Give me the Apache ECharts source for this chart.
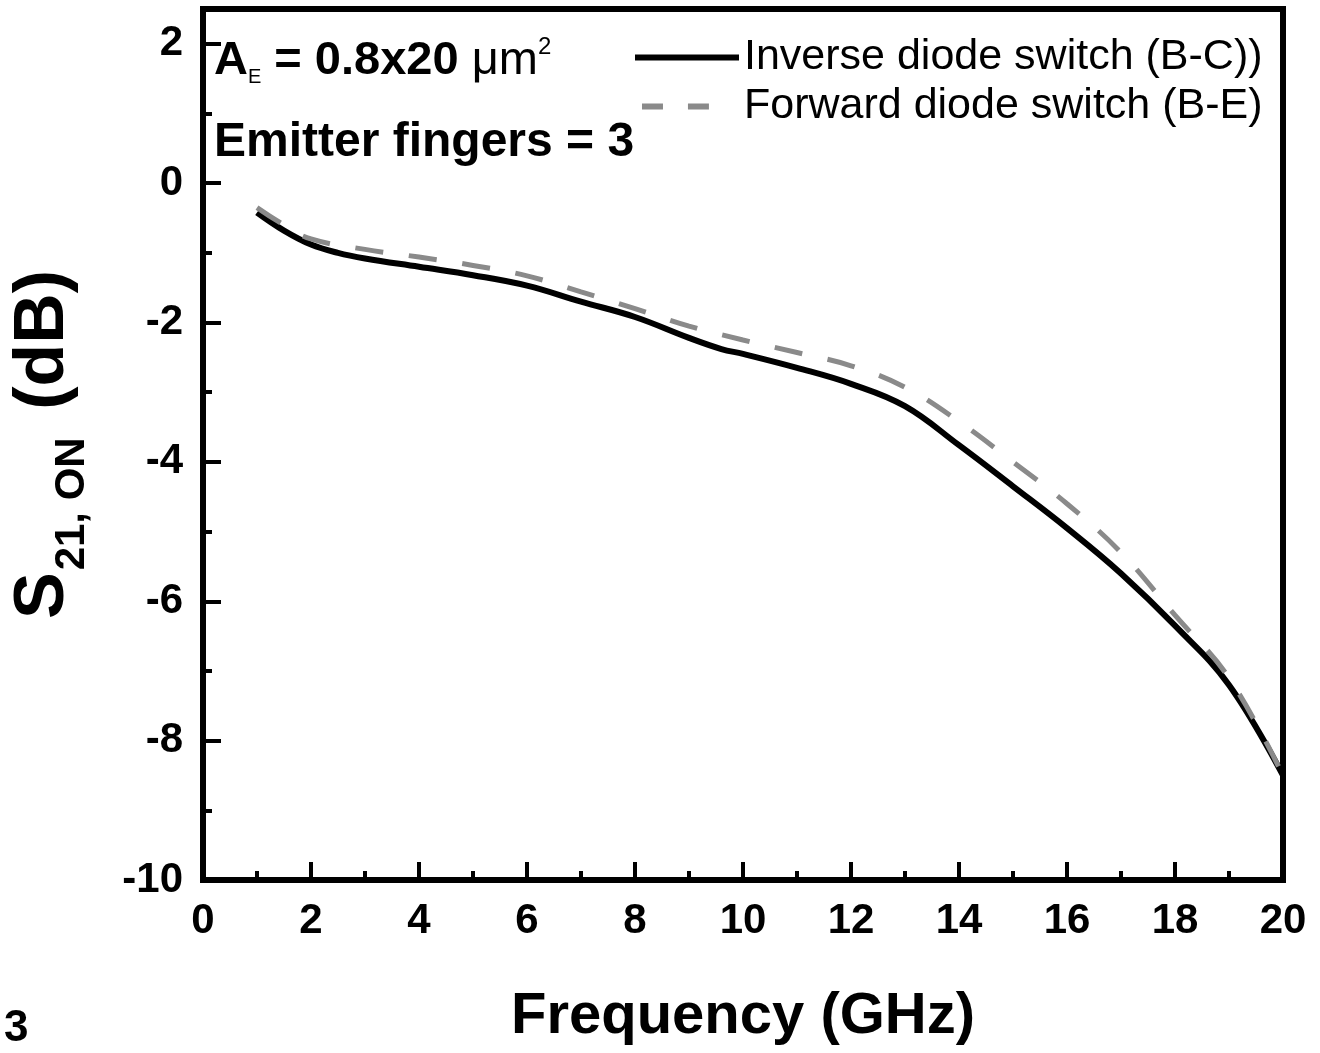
<!DOCTYPE html>
<html>
<head>
<meta charset="utf-8">
<title>S21 ON vs frequency</title>
<script src="https://cdn.jsdelivr.net/npm/echarts@6/dist/echarts.min.js"></script>
<style>
  html, body { margin: 0; padding: 0; background: #fff; }
  #chart { width: 1320px; height: 1053px; }
</style>
</head>
<body>
<div id="chart"></div>
<script>
// values (GHz, dB)
const freqInverse = [1, 1.5, 2, 2.5, 3, 4, 5, 6, 7, 8, 9, 9.6, 10, 11, 12, 13, 14, 15, 16, 17, 18, 19, 20];
const s21Inverse = [-0.42, -0.68, -0.88, -1.0, -1.08, -1.2, -1.32, -1.47, -1.7, -1.92, -2.22, -2.38, -2.45, -2.65, -2.88, -3.2, -3.76, -4.35, -4.95, -5.6, -6.35, -7.2, -8.5];
const freqForward = [1, 1.5, 2, 3, 4, 5, 6, 7, 8, 9, 10, 11, 12, 13, 14, 15, 16, 17, 18, 19, 20];
const s21Forward = [-0.35, -0.6, -0.8, -0.95, -1.06, -1.18, -1.33, -1.56, -1.8, -2.05, -2.25, -2.43, -2.62, -2.93, -3.42, -4.0, -4.6, -5.3, -6.2, -7.1, -8.5];
const seriesNames = ["Inverse diode switch (B-C))", "Forward diode switch (B-E)"];
const xRange = [0, 20];
const yRange = [-10, 2.5];

const FONT = "'Liberation Sans', Arial, sans-serif";

// legend samples: a plain bar and two short dashes (tiny anchors keep the width)
const solidIcon = "path://M0,0h104v6h-104z";
const dashIcon = "path://M0,0h0.1v0.1h-0.1zM7,0h21v6h-21zM53,0h21v6h-21zM104,0h0.1v0.1h-0.1z";

function pairs(xs, ys) {
  return xs.map((x, i) => [x, ys[i]]);
}

const chart = echarts.init(document.getElementById("chart"));
chart.setOption({
  animation: false,
  backgroundColor: "#fff",
  textStyle: { fontFamily: FONT, color: "#000" },
  grid: {
    left: 203,
    right: 37,
    top: 9,
    bottom: 173,
    outerBoundsMode: "none",
    containLabel: false,
    show: true,
    borderColor: "#000",
    borderWidth: 6
  },
  legend: {
    orient: "vertical",
    left: 630,
    top: 31,
    itemWidth: 104,
    itemHeight: 6,
    itemGap: 6,
    symbolKeepAspect: false,
    textStyle: { fontSize: 43, color: "#000", fontFamily: FONT },
    data: [
      { name: seriesNames[0], icon: solidIcon },
      { name: seriesNames[1], icon: dashIcon }
    ]
  },
  xAxis: {
    type: "value",
    min: xRange[0],
    max: xRange[1],
    interval: 2,
    name: "Frequency (GHz)",
    nameLocation: "middle",
    nameGap: 108,
    nameTextStyle: { fontSize: 58, fontWeight: "bold", color: "#000", fontFamily: FONT },
    axisLine: { onZero: false, lineStyle: { color: "#000", width: 6 } },
    axisTick: { inside: true, length: 18, lineStyle: { color: "#000", width: 4 } },
    minorTick: { show: true, splitNumber: 2, length: 9, lineStyle: { color: "#000", width: 4 } },
    axisLabel: { fontSize: 42, fontWeight: "bold", color: "#000", margin: 20, fontFamily: FONT },
    splitLine: { show: false }
  },
  yAxis: {
    type: "value",
    min: yRange[0],
    max: yRange[1],
    interval: 2,
    name: "{s|S}{sub|21, ON}{s| (dB)}",
    nameLocation: "middle",
    nameGap: 110,
    nameTextStyle: {
      fontFamily: FONT,
      rich: {
        s: { fontSize: 70, fontWeight: "bold", color: "#000", fontFamily: FONT, lineHeight: 72, verticalAlign: "bottom", padding: [0, 0, 14, 0] },
        sub: { fontSize: 42, fontWeight: "bold", color: "#000", fontFamily: FONT, verticalAlign: "bottom", lineHeight: 40, padding: [0, 8, 0, 2] }
      }
    },
    axisLine: { onZero: false, lineStyle: { color: "#000", width: 6 } },
    axisTick: { inside: true, length: 18, lineStyle: { color: "#000", width: 4 } },
    minorTick: { show: true, splitNumber: 2, length: 9, lineStyle: { color: "#000", width: 4 } },
    axisLabel: {
      fontSize: 42,
      fontWeight: "bold",
      color: "#000",
      margin: 20,
      fontFamily: FONT,
      showMaxLabel: false
    },
    splitLine: { show: false }
  },
  series: [
    {
      name: seriesNames[0],
      type: "line",
      data: pairs(freqInverse, s21Inverse),
      smooth: 0.4,
      symbol: "none",
      lineStyle: { color: "#000", width: 6 },
      itemStyle: { color: "#000" }
    },
    {
      name: seriesNames[1],
      type: "line",
      data: pairs(freqForward, s21Forward),
      smooth: 0.4,
      symbol: "none",
      lineStyle: { color: "#8a8a8a", width: 5, type: [28, 26] },
      itemStyle: { color: "#8a8a8a" }
    }
  ],
  graphic: [
    {
      type: "text",
      left: 214,
      top: 35,
      style: {
        text: "{a|A}{sub|E}{a| = 0.8x20 }{u|μm}{sup|2}",
        rich: {
          a: { fontSize: 47, fontWeight: "bold", fill: "#000", fontFamily: FONT, lineHeight: 52 },
          u: { fontSize: 47, fill: "#000", fontFamily: FONT, lineHeight: 52 },
          sub: { fontSize: 20, fill: "#000", fontFamily: FONT, verticalAlign: "bottom", lineHeight: 20 },
          sup: { fontSize: 24, fill: "#000", fontFamily: FONT, verticalAlign: "top", lineHeight: 24 }
        }
      }
    },
    {
      type: "text",
      left: 214,
      top: 119,
      style: {
        text: "Emitter fingers = 3",
        fontSize: 48,
        fontWeight: "bold",
        fill: "#000",
        fontFamily: FONT
      }
    },
    {
      type: "text",
      left: 4,
      top: 1007,
      style: { text: "3", fontSize: 44, fontWeight: "bold", fill: "#000", fontFamily: FONT }
    }
  ]
});
</script>
</body>
</html>
